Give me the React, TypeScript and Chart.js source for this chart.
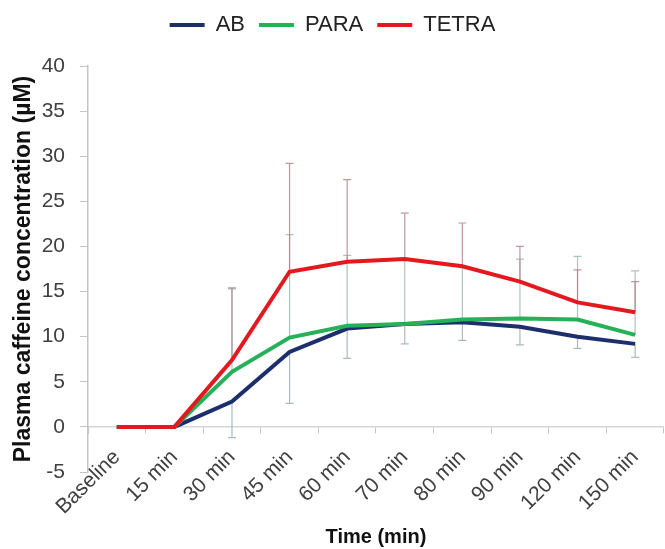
import React, { useEffect, useRef } from 'react';
import { Chart, registerables } from 'chart.js';

Chart.register(...registerables);

const categories = ['Baseline', '15 min', '30 min', '45 min', '60 min', '70 min', '80 min', '90 min', '120 min', '150 min'];
const abValues = [0, 0, 2.8, 8.3, 10.9, 11.4, 11.6, 11.1, 10.0, 9.2];
const paraValues = [0, 0, 6.1, 9.9, 11.2, 11.4, 11.9, 12.0, 11.9, 10.2];
const tetraValues = [0, 0, 7.4, 17.2, 18.3, 18.6, 17.8, 16.1, 13.8, 12.7];
const abErrorMinus = [0, 0, 4.0, 5.7, 3.3, 2.2, 2.0, 2.0, 1.3, 1.5];
const paraErrorPlus = [0, 0, 9.2, 11.4, 7.8, 7.1, 5.9, 6.6, 7.0, 7.1];
const tetraErrorPlus = [0, 0, 8.0, 12.0, 9.1, 5.1, 4.8, 3.9, 3.6, 3.4];
const yMin = -5;
const yMax = 40;
const yStep = 5;

const FONT = "'Liberation Sans', Arial, sans-serif";

const errorBarPlugin = {
  id: 'errorBars',
  beforeDatasetsDraw(chart: any) {
    const { ctx } = chart;
    const yScale = chart.scales.y;
    [0, 1, 2].forEach((di) => {
      const ds: any = chart.data.datasets[di];
      const meta = chart.getDatasetMeta(di);
      const plus: number[] | undefined = ds.errorPlus;
      const minus: number[] | undefined = ds.errorMinus;
      ctx.save();
      ctx.strokeStyle = ds.errorColor;
      ctx.lineWidth = 1.2;
      meta.data.forEach((pt: any, i: number) => {
        const v = (ds.data as number[])[i];
        const ends: number[] = [];
        if (plus && plus[i] > 0) ends.push(v + plus[i]);
        if (minus && minus[i] > 0) ends.push(v - minus[i]);
        ends.forEach((end) => {
          const x = pt.x;
          const y0 = yScale.getPixelForValue(v);
          const y1 = yScale.getPixelForValue(end);
          ctx.beginPath();
          ctx.moveTo(x, y0);
          ctx.lineTo(x, y1);
          ctx.moveTo(x - 4, y1);
          ctx.lineTo(x + 4, y1);
          ctx.stroke();
        });
      });
      ctx.restore();
    });
  },
};

const legendSpacer = {
  id: 'legendSpacer',
  beforeInit(chart: any) {
    const legend = chart.legend;
    if (!legend) return;
    const origFit = legend.fit;
    legend.fit = function () {
      origFit.bind(legend)();
      this.height += 20;
    };
  },
};

export default function App() {
  const canvasRef = useRef<HTMLCanvasElement | null>(null);

  useEffect(() => {
    document.body.style.margin = '0';
    const canvas = canvasRef.current;
    if (!canvas) return;
    const chart = new Chart(canvas, {
      type: 'line',
      data: {
        labels: categories,
        datasets: [
          {
            label: 'AB',
            data: abValues,
            borderColor: '#1c2e6c',
            backgroundColor: '#1c2e6c',
            borderWidth: 4,
            pointRadius: 0,
            tension: 0,
            order: 2,
            errorMinus: abErrorMinus,
            errorColor: 'rgba(150,168,172,0.8)',
          } as any,
          {
            label: 'PARA',
            data: paraValues,
            borderColor: '#27b058',
            backgroundColor: '#27b058',
            borderWidth: 4,
            pointRadius: 0,
            tension: 0,
            order: 1,
            errorPlus: paraErrorPlus,
            errorColor: 'rgba(155,180,170,0.8)',
          } as any,
          {
            label: 'TETRA',
            data: tetraValues,
            borderColor: '#e3191f',
            backgroundColor: '#e3191f',
            borderWidth: 4,
            pointRadius: 0,
            tension: 0,
            order: 0,
            errorPlus: tetraErrorPlus,
            errorColor: 'rgba(175,125,135,0.8)',
          } as any,
        ],
      },
      options: {
        responsive: true,
        maintainAspectRatio: false,
        animation: false,
        layout: { padding: 0 },
        plugins: {
          tooltip: { enabled: false },
          legend: {
            position: 'top',
            labels: {
              font: { family: FONT, size: 22 },
              color: '#222',
              padding: 14,
              boxWidth: 35,
              boxHeight: 4,
              generateLabels: (ch: any) =>
                ch.data.datasets.map((ds: any, i: number) => ({
                  text: ds.label,
                  fillStyle: ds.borderColor,
                  strokeStyle: ds.borderColor,
                  lineWidth: 0,
                  hidden: false,
                  datasetIndex: i,
                  fontColor: '#222',
                })),
            },
          },
          title: {
            display: true,
            position: 'bottom',
            fullSize: false,
            text: 'Time (min)',
            color: '#111',
            font: { family: FONT, size: 20, weight: 'bold' },
            padding: { top: 53, bottom: 0 },
          },
        },
        scales: {
          x: {
            type: 'category',
            position: { y: 0 } as any,
            offset: true,
            grid: {
              display: true,
              drawOnChartArea: false,
              offset: true,
              drawTicks: true,
              tickLength: 6,
              tickColor: '#c4c4c4',
            },
            border: { display: true, color: '#d6d6d6', width: 1.5 },
            ticks: {
              autoSkip: false,
              maxRotation: 45,
              minRotation: 45,
              padding: 12,
              color: '#404040',
              font: { family: FONT, size: 21 },
            },
          },
          y: {
            min: yMin,
            max: yMax,
            afterFit: (scale: any) => {
              scale.width = 88;
            },
            grid: {
              display: true,
              drawOnChartArea: false,
              drawTicks: true,
              tickLength: 8,
              tickColor: '#c4c4c4',
            },
            border: { display: true, color: '#c4c4c4', width: 1.5 },
            ticks: {
              stepSize: yStep,
              padding: 15,
              color: '#404040',
              font: { family: FONT, size: 21 },
            },
            title: {
              display: true,
              text: 'Plasma caffeine concentration (µM)',
              color: '#111',
              font: { family: FONT, size: 23, weight: 'bold' },
              padding: { top: 10, bottom: 0 },
            },
          },
        },
      } as any,
      plugins: [errorBarPlugin, legendSpacer],
    });
    return () => {
      chart.destroy();
    };
  }, []);

  return (
    <div style={{ position: 'relative', width: 665, height: 549 }}>
      <canvas ref={canvasRef} />
    </div>
  );
}
